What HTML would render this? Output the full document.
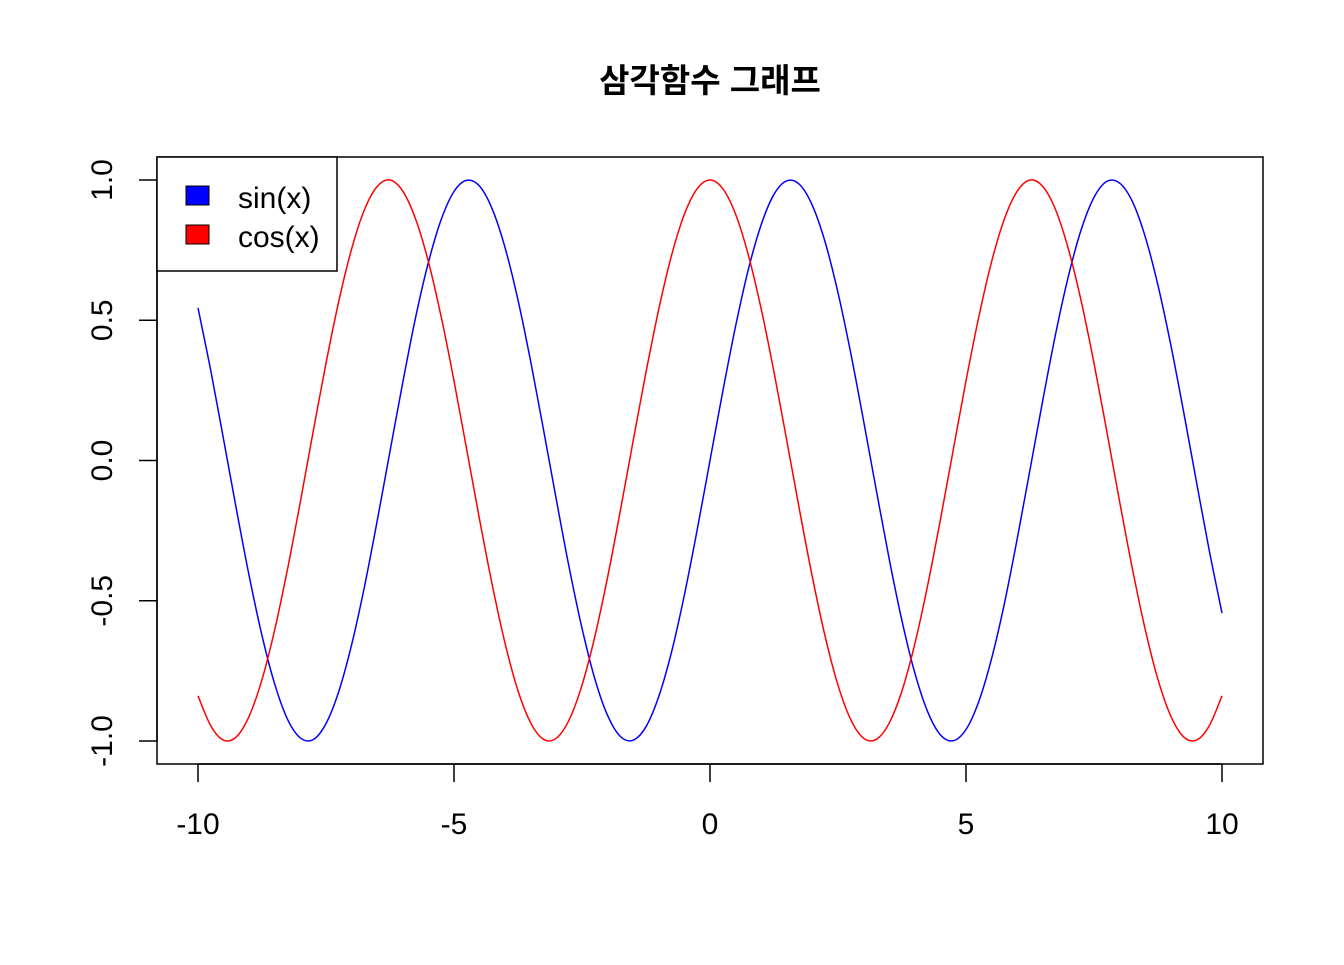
<!DOCTYPE html>
<html><head><meta charset="utf-8"><style>
html,body{margin:0;padding:0;background:#fff;}
svg text{font-family:"Liberation Sans","Noto Sans CJK KR",sans-serif;}
</style></head><body>
<svg id="chart" width="1344" height="960" viewBox="0 0 1344 960">
<text x="710" y="92" text-anchor="middle" font-size="33" font-weight="bold">삼각함수 그래프</text>
<rect x="157" y="157" width="1106" height="607" fill="none" stroke="#000" stroke-width="1.5"/>
<g id="axes"></g>
<g id="series"></g>
<g>
<rect x="157" y="157" width="180" height="114" fill="#fff" stroke="#000" stroke-width="1.5"/>
<rect x="186" y="186" width="23" height="19" fill="#0000ff" stroke="#000"/>
<text x="238" y="208" font-size="30">sin(x)</text>
<rect x="186" y="225" width="23" height="19" fill="#ff0000" stroke="#000"/>
<text x="238" y="247" font-size="30">cos(x)</text>
</g>
</svg>
<script>
const xValues = [-10,-9.75,-9.5,-9.25,-9,-8.75,-8.5,-8.25,-8,-7.75,-7.5,-7.25,-7,-6.75,-6.5,-6.25,-6,-5.75,-5.5,-5.25,-5,-4.75,-4.5,-4.25,-4,-3.75,-3.5,-3.25,-3,-2.75,-2.5,-2.25,-2,-1.75,-1.5,-1.25,-1,-0.75,-0.5,-0.25,0,0.25,0.5,0.75,1,1.25,1.5,1.75,2,2.25,2.5,2.75,3,3.25,3.5,3.75,4,4.25,4.5,4.75,5,5.25,5.5,5.75,6,6.25,6.5,6.75,7,7.25,7.5,7.75,8,8.25,8.5,8.75,9,9.25,9.5,9.75,10];
const sinValues = [0.544,0.320,0.075,-0.174,-0.412,-0.624,-0.798,-0.923,-0.989,-0.995,-0.938,-0.823,-0.657,-0.451,-0.215,0.033,0.279,0.510,0.706,0.859,0.959,0.999,0.978,0.895,0.757,0.572,0.351,0.108,-0.141,-0.382,-0.598,-0.778,-0.909,-0.984,-0.997,-0.949,-0.841,-0.682,-0.479,-0.247,0,0.247,0.479,0.682,0.841,0.949,0.997,0.984,0.909,0.778,0.598,0.382,0.141,-0.108,-0.351,-0.572,-0.757,-0.895,-0.978,-0.999,-0.959,-0.859,-0.706,-0.510,-0.279,-0.033,0.215,0.451,0.657,0.823,0.938,0.995,0.989,0.923,0.798,0.624,0.412,0.174,-0.075,-0.320,-0.544];
const cosValues = [-0.839,-0.946,-0.997,-0.985,-0.911,-0.781,-0.602,-0.386,-0.146,0.104,0.347,0.568,0.754,0.894,0.977,1.000,0.960,0.861,0.709,0.512,0.284,0.037,-0.211,-0.446,-0.654,-0.821,-0.936,-0.994,-0.990,-0.924,-0.801,-0.628,-0.416,-0.178,0.071,0.315,0.540,0.732,0.878,0.969,1,0.969,0.878,0.732,0.540,0.315,0.071,-0.178,-0.416,-0.628,-0.801,-0.924,-0.990,-0.994,-0.936,-0.821,-0.654,-0.446,-0.211,0.037,0.284,0.512,0.709,0.861,0.960,1.000,0.977,0.894,0.754,0.568,0.347,0.104,-0.146,-0.386,-0.602,-0.781,-0.911,-0.985,-0.997,-0.946,-0.839];
const xTicks = [-10,-5,0,5,10];
const xTickLabels = ["-10","-5","0","5","10"];
const yTicks = [-1,-0.5,0,0.5,1];
const yTickLabels = ["-1.0","-0.5","0.0","0.5","1.0"];

const NS = "http://www.w3.org/2000/svg";
function sx(v){ return 198 + (v + 10) * 51.2; }
function sy(v){ return 460.5 - v * 280.5; }
const axes = document.getElementById('axes');
const series = document.getElementById('series');
function mk(tag, attrs, parent){ const e = document.createElementNS(NS, tag); for (const k in attrs) e.setAttribute(k, attrs[k]); parent.appendChild(e); return e; }

const xl = mk('line', {x1:sx(xTicks[0]), x2:sx(xTicks[xTicks.length-1]), y1:764, y2:764, stroke:'#000','stroke-width':1.5}, axes);


xTicks.forEach((t, i) => {
  const l = mk('line', {x1:sx(t), x2:sx(t), y1:764, y2:782, stroke:'#000','stroke-width':1.5}, axes);
  
  
  const tx = mk('text', {x:sx(t), y:834, 'text-anchor':'middle', 'font-size':30}, axes);
  tx.textContent = xTickLabels[i];
  
  
});
const yl = mk('line', {x1:157, x2:157, y1:sy(yTicks[0]), y2:sy(yTicks[yTicks.length-1]), stroke:'#000','stroke-width':1.5}, axes);


yTicks.forEach((t, i) => {
  const l = mk('line', {x1:139, x2:157, y1:sy(t), y2:sy(t), stroke:'#000','stroke-width':1.5}, axes);
  
  
  const tx = mk('text', {x:0, y:0, 'text-anchor':'middle', 'font-size':30, transform:'translate(112,'+sy(t)+') rotate(-90)'}, axes);
  tx.textContent = yTickLabels[i];
  
  
});
function pathFor(vals){
  const p = vals.map((v, i) => [sx(xValues[i]), sy(v)]);
  let d = 'M' + p[0][0].toFixed(2) + ',' + p[0][1].toFixed(2);
  for (let i = 0; i < p.length - 1; i++) {
    const p0 = p[Math.max(0, i-1)], p1 = p[i], p2 = p[i+1], p3 = p[Math.min(p.length-1, i+2)];
    const c1x = p1[0] + (p2[0]-p0[0])/6, c1y = p1[1] + (p2[1]-p0[1])/6;
    const c2x = p2[0] - (p3[0]-p1[0])/6, c2y = p2[1] - (p3[1]-p1[1])/6;
    d += ' C' + c1x.toFixed(2) + ',' + c1y.toFixed(2) + ' ' + c2x.toFixed(2) + ',' + c2y.toFixed(2) + ' ' + p2[0].toFixed(2) + ',' + p2[1].toFixed(2);
  }
  return d;
}
const ps = mk('path', {d:pathFor(sinValues), fill:'none', stroke:'#0000ff', 'stroke-width':1.5}, series);


const pc = mk('path', {d:pathFor(cosValues), fill:'none', stroke:'#ff0000', 'stroke-width':1.5}, series);


</script>
</body></html>
